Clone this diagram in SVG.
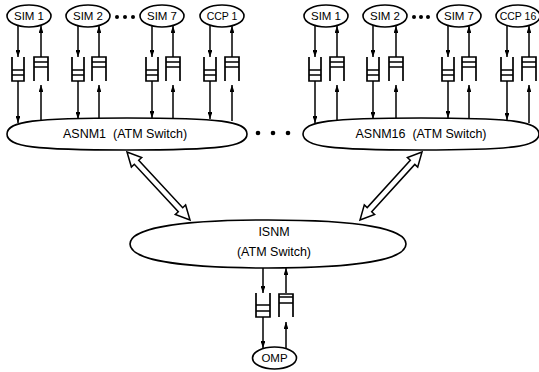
<svg xmlns="http://www.w3.org/2000/svg" width="539" height="372" viewBox="0 0 539 372">
<style>
.sh{fill:#fff;stroke:#000;stroke-width:1.6}
.q{fill:none;stroke:#000;stroke-width:1.7}
.c{fill:none;stroke:#000;stroke-width:1.5}
.da{fill:none;stroke:#000;stroke-width:1.5;stroke-linejoin:miter}
.t{font-family:"Liberation Sans",Arial,sans-serif;font-size:11.5px;fill:#000;text-anchor:middle}
.tb{font-family:"Liberation Sans",Arial,sans-serif;font-size:12.5px;fill:#000;text-anchor:middle}
.dot{fill:#000}
</style>
<defs>
<marker id="ah" viewBox="0 0 10 7" refX="10" refY="3.5" markerWidth="7" markerHeight="4.9" orient="auto" markerUnits="userSpaceOnUse"><path d="M0,0 L10,3.5 L0,7 z" fill="#000"/></marker>
</defs>
<rect width="539" height="372" fill="#fff"/>

<g id="connectors">
<path class="c" marker-end="url(#ah)" d="M18 26 V57"/><path class="c" marker-end="url(#ah)" d="M41 57 V26"/>
<path class="c" marker-end="url(#ah)" d="M18 81 V123"/><path class="c" marker-end="url(#ah)" d="M41 121 V85"/>
<path class="c" marker-end="url(#ah)" d="M78 26 V57"/><path class="c" marker-end="url(#ah)" d="M99 57 V26"/>
<path class="c" marker-end="url(#ah)" d="M78 81 V119"/><path class="c" marker-end="url(#ah)" d="M99 118 V85"/>
<path class="c" marker-end="url(#ah)" d="M152 26 V57"/><path class="c" marker-end="url(#ah)" d="M173 57 V26"/>
<path class="c" marker-end="url(#ah)" d="M152 81 V118"/><path class="c" marker-end="url(#ah)" d="M173 118 V85"/>
<path class="c" marker-end="url(#ah)" d="M210 26 V57"/><path class="c" marker-end="url(#ah)" d="M232 57 V26"/>
<path class="c" marker-end="url(#ah)" d="M210 81 V119"/><path class="c" marker-end="url(#ah)" d="M232 121 V85"/>
<path class="c" marker-end="url(#ah)" d="M315 26 V57"/><path class="c" marker-end="url(#ah)" d="M337 57 V26"/>
<path class="c" marker-end="url(#ah)" d="M315 81 V123"/><path class="c" marker-end="url(#ah)" d="M337 120 V85"/>
<path class="c" marker-end="url(#ah)" d="M373 26 V57"/><path class="c" marker-end="url(#ah)" d="M396 57 V26"/>
<path class="c" marker-end="url(#ah)" d="M373 81 V119"/><path class="c" marker-end="url(#ah)" d="M396 118 V85"/>
<path class="c" marker-end="url(#ah)" d="M448 26 V57"/><path class="c" marker-end="url(#ah)" d="M469 57 V26"/>
<path class="c" marker-end="url(#ah)" d="M448 81 V118"/><path class="c" marker-end="url(#ah)" d="M469 118 V85"/>
<path class="c" marker-end="url(#ah)" d="M507 26 V57"/><path class="c" marker-end="url(#ah)" d="M529 57 V26"/>
<path class="c" marker-end="url(#ah)" d="M507 81 V120"/><path class="c" marker-end="url(#ah)" d="M529 123 V85"/>
<path class="c" marker-end="url(#ah)" d="M263 268 V293"/><path class="c" marker-end="url(#ah)" d="M286 293 V268"/>
<path class="c" marker-end="url(#ah)" d="M263 317 V348"/><path class="c" marker-end="url(#ah)" d="M286 349 V322"/>
<path class="da" d="M127 152 L131.4 167 L134.3 164.3 L178.3 211.8 L175.3 214.5 L190 220 L185.6 205 L182.7 207.7 L138.7 160.2 L141.7 157.5 Z"/>
<path class="da" d="M422 152 L407.4 157.6 L410.3 160.3 L367.2 207.6 L364.3 204.9 L360 220 L374.6 214.4 L371.7 211.7 L414.8 164.4 L417.7 167.1 Z"/>
</g>

<g id="queues">
<path class="q" d="M12 57 V81 H24 V57 M12 70 H24 M12 75 H24"/>
<path class="q" d="M34 81 V57 H48 V81 M34 62 H48 M34 67 H48"/>
<path class="q" d="M72 57 V81 H84 V57 M72 70 H84 M72 75 H84"/>
<path class="q" d="M92 81 V57 H106 V81 M92 62 H106 M92 67 H106"/>
<path class="q" d="M146 57 V81 H158 V57 M146 70 H158 M146 75 H158"/>
<path class="q" d="M166 81 V57 H180 V81 M166 62 H180 M166 67 H180"/>
<path class="q" d="M204 57 V81 H216 V57 M204 70 H216 M204 75 H216"/>
<path class="q" d="M225 81 V57 H239 V81 M225 62 H239 M225 67 H239"/>
<path class="q" d="M309 57 V81 H321 V57 M309 70 H321 M309 75 H321"/>
<path class="q" d="M330 81 V57 H344 V81 M330 62 H344 M330 67 H344"/>
<path class="q" d="M367 57 V81 H379 V57 M367 70 H379 M367 75 H379"/>
<path class="q" d="M389 81 V57 H403 V81 M389 62 H403 M389 67 H403"/>
<path class="q" d="M442 57 V81 H454 V57 M442 70 H454 M442 75 H454"/>
<path class="q" d="M462 81 V57 H476 V81 M462 62 H476 M462 67 H476"/>
<path class="q" d="M501 57 V81 H513 V57 M501 70 H513 M501 75 H513"/>
<path class="q" d="M522 81 V57 H536 V81 M522 62 H536 M522 67 H536"/>
<path class="q" d="M256 293 V317 H270 V293 M256 305 H270 M256 311 H270"/>
<path class="q" d="M279 317 V294 H293 V317 M279 297 H293 M279 303 H293"/>
</g>

<g id="sim1a"><ellipse class="sh" cx="29" cy="16" rx="22" ry="11"/><text class="t" x="29" y="20">SIM 1</text></g>
<g id="sim2a"><ellipse class="sh" cx="88" cy="16" rx="22" ry="11"/><text class="t" x="88" y="20">SIM 2</text></g>
<g id="sim7a"><ellipse class="sh" cx="162" cy="16" rx="22" ry="11"/><text class="t" x="162" y="20">SIM 7</text></g>
<g id="ccp1"><ellipse class="sh" cx="222" cy="16" rx="22" ry="11"/><text class="t" x="222" y="20" style="font-size:10.5px">CCP 1</text></g>
<g id="sim1b"><ellipse class="sh" cx="326" cy="16" rx="22" ry="11"/><text class="t" x="326" y="20">SIM 1</text></g>
<g id="sim2b"><ellipse class="sh" cx="385" cy="16" rx="22" ry="11"/><text class="t" x="385" y="20">SIM 2</text></g>
<g id="sim7b"><ellipse class="sh" cx="459" cy="16" rx="22" ry="11"/><text class="t" x="459" y="20">SIM 7</text></g>
<g id="ccp16"><ellipse class="sh" cx="518" cy="16" rx="22" ry="11"/><text class="t" x="518" y="20" style="font-size:10.5px">CCP 16</text></g>

<g id="dots">
<circle class="dot" cx="117" cy="17" r="2"/><circle class="dot" cx="125" cy="17" r="2"/><circle class="dot" cx="133" cy="17" r="2"/>
<circle class="dot" cx="414" cy="17" r="2"/><circle class="dot" cx="421" cy="17" r="2"/><circle class="dot" cx="428" cy="17" r="2"/>
<circle class="dot" cx="258" cy="133" r="2.3"/><circle class="dot" cx="273" cy="133" r="2.3"/><circle class="dot" cx="288" cy="133" r="2.3"/>
</g>

<g id="asnm1"><path class="sh" d="M7,134 C7,121 35,118 127,118 C219,118 247,121 247,134 C247,147 219,150 127,150 C35,150 7,147 7,134 Z"/><text class="tb" x="125" y="138">ASNM1&#160; (ATM Switch)</text></g>
<g id="asnm16"><path class="sh" d="M303,134 C303,121 331,118 421,118 C511,118 539,121 539,134 C539,147 511,150 421,150 C331,150 303,147 303,134 Z"/><text class="tb" x="421" y="138">ASNM16&#160; (ATM Switch)</text></g>
<g id="isnm"><path class="sh" d="M130,244 C130,229 175,220 268,220 C361,220 406,229 406,244 C406,259 361,268 268,268 C175,268 130,259 130,244 Z"/><text class="tb" x="274" y="236">ISNM</text><text class="tb" x="274" y="256">(ATM Switch)</text></g>
<g id="omp"><ellipse class="sh" cx="274.5" cy="358" rx="22" ry="11"/><text class="t" x="274.5" y="362">OMP</text></g>
</svg>
